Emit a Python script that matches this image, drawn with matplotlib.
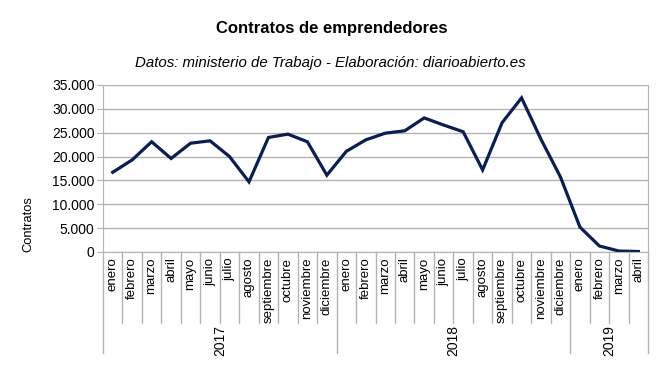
import matplotlib
matplotlib.use("Agg")
import matplotlib.pyplot as plt
import matplotlib.transforms as mtransforms
from matplotlib.ticker import FuncFormatter

plt.rcParams['font.family'] = ['Liberation Sans', 'DejaVu Sans']

# data
years = ['2017', '2018', '2019']
months_per_year = [12, 12, 4]
month_names = ['enero', 'febrero', 'marzo', 'abril', 'mayo', 'junio', 'julio',
               'agosto', 'septiembre', 'octubre', 'noviembre', 'diciembre']
contratos_2017 = [16700, 19300, 23100, 19600, 22800, 23300, 20000, 14700, 24000, 24700, 23100, 16100]
contratos_2018 = [21100, 23500, 24900, 25400, 28100, 26600, 25200, 17200, 27100, 32300, 23600, 15700]
contratos_2019 = [5200, 1250, 200, 100]

labels = month_names + month_names + month_names[:4]
values = contratos_2017 + contratos_2018 + contratos_2019
x = list(range(len(values)))

fig = plt.figure(figsize=(6.6, 3.71), dpi=100)
ax = fig.add_axes([0.156, 0.3208, 0.826, 0.4501])

grid_col = '#b3b3b3'
ax.set_ylim(0, 35000)
ax.set_xlim(-0.5, len(values) - 0.5)
ax.set_yticks(range(0, 35001, 5000))
ax.yaxis.set_major_formatter(FuncFormatter(lambda v, p: f'{int(v):,}'.replace(',', '.')))
ax.grid(axis='y', color=grid_col, linewidth=1)
ax.set_axisbelow(True)
for s in ax.spines.values():
    s.set_color(grid_col)
ax.spines['top'].set_visible(False)

ax.plot(x, values, color='#0b1d51', linewidth=2.3, solid_joinstyle='miter')

ax.tick_params(axis='y', length=4.5, color=grid_col, pad=1.5, labelsize=10)
ax.set_xticks(x)
ax.set_xticklabels(labels, rotation=90, fontsize=9.5)
ax.tick_params(axis='x', length=0, pad=4)

# category separators below the axis
trans = mtransforms.blended_transform_factory(ax.transData, fig.transFigure)
ybot = 0.3208
bounds = [-0.5]
for n in months_per_year:
    bounds.append(bounds[-1] + n)
for i in range(len(values) + 1):
    xb = i - 0.5
    low = 0.0485 if xb in bounds else 0.1294
    ax.plot([xb, xb], [ybot, low], color=grid_col, linewidth=1, transform=trans, clip_on=False)

for k, yr in enumerate(years):
    xc = (bounds[k] + bounds[k + 1]) / 2
    ax.text(xc, 1 - 341 / 371, yr, rotation=90, ha='center', va='center',
            fontsize=10, transform=trans)

fig.text(0.502, 1 - 28 / 371, 'Contratos de emprendedores', ha='center', va='center',
         fontsize=12, fontweight='bold')
fig.text(0.5, 1 - 63 / 371, 'Datos: ministerio de Trabajo - Elaboración: diarioabierto.es',
         ha='center', va='center', fontsize=10.8, style='italic')
fig.text(0.043, 1 - 224 / 371, 'Contratos', rotation=90, ha='center', va='center', fontsize=9.3)

fig.savefig('out.png', dpi=100)
